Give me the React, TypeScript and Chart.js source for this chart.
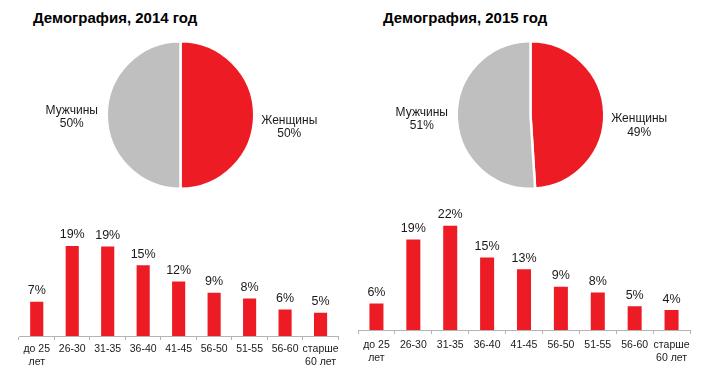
import React, { useEffect, useRef } from "react";
import { Chart, registerables } from "chart.js";

Chart.register(...registerables);

// ---- data ----
const titles = ["Демография, 2014 год", "Демография, 2015 год"];
const pieLabels = ["Женщины", "Мужчины"];
const pie2014 = [50, 50];
const pie2015 = [49, 51];
const ageCategories: (string | string[])[] = [
  ["до 25", "лет"],
  "26-30",
  "31-35",
  "36-40",
  "41-45",
  "56-50",
  "51-55",
  "56-60",
  ["старше", "60 лет"],
];
const bars2014 = [7.2, 19.0, 18.9, 14.9, 11.5, 9.1, 7.9, 5.6, 4.9];
const bars2015 = [5.6, 19.1, 22.0, 15.3, 12.8, 9.1, 7.9, 5.0, 4.2];

// ---- styles ----
const RED = "#ED1C24";
const GRAY = "#BFBFBF";
const AXIS = "#B3B3B3";
const TEXT = "#1a1a1a";
const FONT = "'Liberation Sans', Arial, sans-serif";

function pieLabelPlugin(nudgeY: number[]) {
  return {
    id: "pieLabels",
    afterDatasetsDraw(chart: any) {
      const ctx = chart.ctx;
      const meta = chart.getDatasetMeta(0);
      const values = chart.data.datasets[0].data as number[];
      ctx.save();
      ctx.fillStyle = TEXT;
      ctx.font = `12px ${FONT}`;
      ctx.textAlign = "center";
      ctx.textBaseline = "middle";
      meta.data.forEach((arc: any, i: number) => {
        const p = arc.getProps(["startAngle", "endAngle", "x", "y", "outerRadius"], true);
        const mid = (p.startAngle + p.endAngle) / 2;
        const d = p.outerRadius + 35;
        const cx = p.x + Math.cos(mid) * d;
        const cy = p.y + Math.sin(mid) * d + (nudgeY[i] || 0);
        ctx.fillText(String(chart.data.labels[i]), cx, cy - 6.75);
        ctx.fillText(`${values[i]}%`, cx, cy + 6.75);
      });
      ctx.restore();
    },
  };
}

const valueLabelPlugin = {
  id: "valueLabels",
  afterDatasetsDraw(chart: any) {
    const ctx = chart.ctx;
    const meta = chart.getDatasetMeta(0);
    const values = chart.data.datasets[0].data as number[];
    ctx.save();
    ctx.fillStyle = TEXT;
    ctx.font = `12.5px ${FONT}`;
    ctx.textAlign = "center";
    ctx.textBaseline = "alphabetic";
    meta.data.forEach((bar: any, i: number) => {
      const p = bar.getProps(["x", "y"], true);
      ctx.fillText(`${Math.round(values[i])}%`, p.x, p.y - 7.5);
    });
    ctx.restore();
  },
};

type PieProps = { left: number; top: number; width: number; height: number; data: number[]; nudge: number[] };

function PieChart({ left, top, width, height, data, nudge }: PieProps) {
  const ref = useRef<HTMLCanvasElement>(null);
  useEffect(() => {
    if (!ref.current) return;
    const chart = new Chart(ref.current, {
      type: "pie",
      data: {
        labels: pieLabels,
        datasets: [
          {
            data,
            backgroundColor: [RED, GRAY],
            borderColor: "#ffffff",
            borderWidth: 2.5,
          },
        ],
      },
      options: {
        animation: false,
        responsive: false,
        maintainAspectRatio: false,
        layout: { padding: 0 },
        plugins: { legend: { display: false }, tooltip: { enabled: false } },
      } as any,
      plugins: [pieLabelPlugin(nudge)],
    });
    return () => chart.destroy();
  }, []);
  return (
    <canvas ref={ref} width={width} height={height} style={{ position: "absolute", left, top, width, height }} />
  );
}

type BarProps = {
  left: number;
  top: number;
  width: number;
  height: number;
  data: number[];
  pad: { left: number; right: number; top: number };
  axisHeight: number;
  barPct: number;
  tickPad: number;
};

function BarChart({ left, top, width, height, data, pad, axisHeight, barPct, tickPad }: BarProps) {
  const ref = useRef<HTMLCanvasElement>(null);
  useEffect(() => {
    if (!ref.current) return;
    const chart = new Chart(ref.current, {
      type: "bar",
      data: {
        labels: ageCategories as any,
        datasets: [
          {
            data,
            backgroundColor: RED,
            barPercentage: barPct,
            categoryPercentage: 1,
          },
        ],
      },
      options: {
        animation: false,
        responsive: false,
        maintainAspectRatio: false,
        layout: { padding: { left: pad.left, right: pad.right, top: pad.top, bottom: 0 } },
        plugins: { legend: { display: false }, tooltip: { enabled: false } },
        scales: {
          x: {
            grid: {
              display: true,
              drawOnChartArea: false,
              drawTicks: true,
              tickLength: 4,
              color: AXIS,
              offset: true,
            },
            border: { display: true, color: AXIS, width: 1 },
            ticks: {
              color: TEXT,
              font: { family: FONT, size: 10.5, lineHeight: 1.2 },
              padding: tickPad,
              maxRotation: 0,
              minRotation: 0,
              autoSkip: false,
            },
            afterFit: (s: any) => {
              s.height = axisHeight;
            },
          },
          y: { display: false, min: 0, max: 25 },
        },
      } as any,
      plugins: [valueLabelPlugin],
    });
    return () => chart.destroy();
  }, []);
  return (
    <canvas ref={ref} width={width} height={height} style={{ position: "absolute", left, top, width, height }} />
  );
}

const titleStyle: React.CSSProperties = {
  position: "absolute",
  top: 10,
  fontFamily: FONT,
  fontWeight: "bold",
  fontSize: 15,
  lineHeight: "15px",
  color: "#000",
  whiteSpace: "nowrap",
};

export default function App() {
  return (
    <div
      style={{
        position: "fixed",
        left: 0,
        top: 0,
        width: 701,
        height: 376,
        background: "#ffffff",
        overflow: "hidden",
      }}
    >
      <div style={{ ...titleStyle, left: 33 }}>{titles[0]}</div>
      <div style={{ ...titleStyle, left: 383 }}>{titles[1]}</div>
      <PieChart left={0} top={40} width={361} height={150} data={pie2014} nudge={[12, 2]} />
      <PieChart left={360} top={40} width={341} height={150} data={pie2015} nudge={[14, 1]} />
      <BarChart
        left={0}
        top={200}
        width={360}
        height={176}
        data={bars2014}
        pad={{ left: 19, right: 21.7, top: 17.5 }}
        axisHeight={40}
        barPct={0.37}
        tickPad={3}
      />
      <BarChart
        left={340}
        top={200}
        width={361}
        height={176}
        data={bars2015}
        pad={{ left: 18, right: 11, top: 11.5 }}
        axisHeight={46}
        barPct={0.38}
        tickPad={5}
      />
    </div>
  );
}
